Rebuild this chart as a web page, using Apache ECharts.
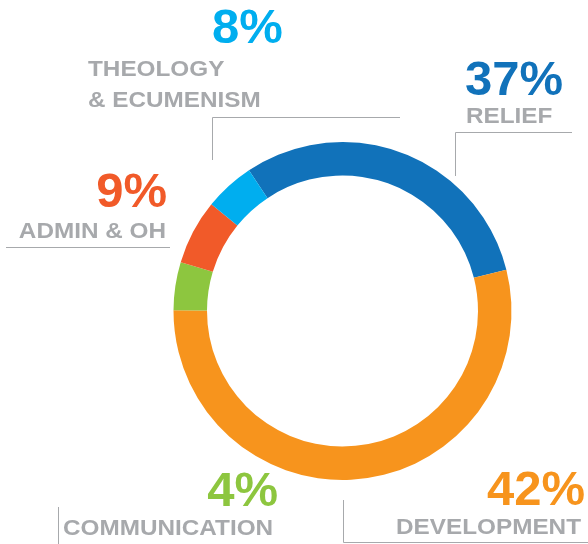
<!DOCTYPE html>
<html>
<head>
<meta charset="utf-8">
<style>html,body{margin:0;padding:0;background:#fff;}#c{width:588px;height:544px;}</style>
<script src="https://cdn.jsdelivr.net/npm/echarts@6/dist/echarts.min.js"></script>
</head>
<body>
<div id="c"></div>
<script>
// Data
const categories = ['RELIEF', 'DEVELOPMENT', 'COMMUNICATION', 'ADMIN & OH', 'THEOLOGY\n& ECUMENISM'];
const percentLabels = [37, 42, 4, 9, 8];          // printed percentages
const arcShares = [30.4, 54.0, 4.6, 6.2, 4.8];    // arc sizes as drawn in the picture
const colors = ['#1172BA', '#F7941D', '#8DC63F', '#F15A29', '#00AEEF'];

// Layout of the annotations (positions/styles only)
const GRAY = '#A7A9AC';
const labelLayout = [
  { pct: [465, 81, 'left'],  name: [466, 117, 'left'] },
  { pct: [585, 491, 'right'], name: [581, 528, 'right'] },
  { pct: [278, 492, 'right'], name: [63, 529, 'left'] },
  { pct: [167, 193, 'right'], name: [166, 232, 'right'] },
  { pct: [212, 29, 'left'],  name: [88, 70, 'left'] }
];
const leaderLines = [
  [[572, 132.5], [455.5, 132.5], [455.5, 176]],
  [[343.5, 500], [343.5, 542.5], [588, 542.5]],
  [[58.5, 507], [58.5, 544]],
  [[6, 247.5], [170, 247.5]],
  [[400, 117.5], [212.5, 117.5], [212.5, 160]]
];

const graphics = [];
categories.forEach((name, i) => {
  const L = labelLayout[i];
  graphics.push({
    type: 'text', x: L.pct[0], y: L.pct[1],
    style: { text: percentLabels[i] + '%', fill: colors[i], font: 'bold 49px "Liberation Sans", Arial, sans-serif',
             align: L.pct[2], verticalAlign: 'middle' }
  });
  const multi = name.indexOf('\n') >= 0;
  graphics.push({
    type: 'text', x: L.name[0], y: multi ? L.name[1] - 15.5 : L.name[1],
    scaleX: 1.08,
    style: { text: name, fill: GRAY, font: 'bold 22.5px "Liberation Sans", Arial, sans-serif',
             align: L.name[2], verticalAlign: multi ? 'top' : 'middle', lineHeight: 31 }
  });
  graphics.push({
    type: 'polyline',
    shape: { points: leaderLines[i] },
    style: { stroke: GRAY, lineWidth: 1, fill: null }
  });
});

const chart = echarts.init(document.getElementById('c'), null, { renderer: 'canvas' });
chart.setOption({
  animation: false,
  backgroundColor: '#ffffff',
  series: [{
    type: 'pie',
    center: [342.5, 311],
    radius: [135.5, 169],
    startAngle: 123.6,
    clockwise: true,
    label: { show: false },
    labelLine: { show: false },
    itemStyle: { borderWidth: 0 },
    emphasis: { disabled: true },
    data: categories.map((n, i) => ({ name: n, value: arcShares[i], itemStyle: { color: colors[i] } }))
  }],
  graphic: graphics
});
</script>
</body>
</html>
